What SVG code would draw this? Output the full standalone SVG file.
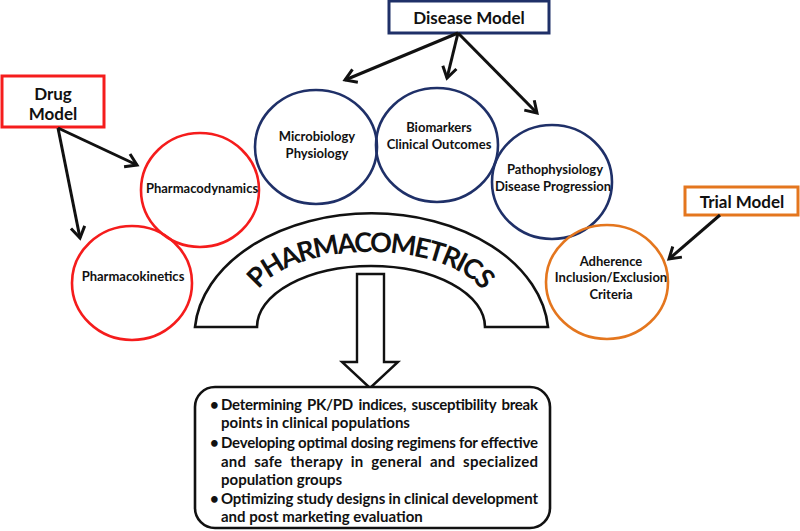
<svg xmlns="http://www.w3.org/2000/svg" width="800" height="531" viewBox="0 0 800 531">
<style>
text{font-family:Lato,"Open Sans","Liberation Sans",sans-serif;font-weight:bold;fill:#111}
.red{fill:none;stroke:#f51c1c;stroke-width:2.6}
.navy{fill:none;stroke:#1f3068;stroke-width:2.6}
.orange{fill:none;stroke:#e4761e;stroke-width:2.6}
.lbl{font-size:13px;text-anchor:middle}
.box{font-size:17px;text-anchor:middle}
.arr{stroke:#111;stroke-width:3;fill:none;marker-end:url(#v)}
.bt{font-size:15px}
</style>
<defs>
<marker id="v" markerUnits="userSpaceOnUse" viewBox="-14 -10 18 20" markerWidth="18" markerHeight="20" refX="0" refY="0" orient="auto">
<path d="M-11,-7 L0,0 L-11,7" fill="none" stroke="#111" stroke-width="3"/>
</marker>
<path id="arcText" d="M252,308 A118,56 0 0 1 488,308"/>
</defs>
<rect width="800" height="531" fill="#fff"/>

<g id="drug-model">
<rect x="2" y="76" width="102" height="51" fill="#fff" stroke="#f51c1c" stroke-width="3"/>
<text class="box" x="53" y="100">Drug</text>
<text class="box" x="53" y="120">Model</text>
</g>
<g id="disease-model">
<rect x="389" y="1" width="160" height="32" fill="#fff" stroke="#1f3068" stroke-width="3"/>
<text class="box" x="469" y="24">Disease Model</text>
</g>
<g id="trial-model">
<rect x="685" y="187" width="113" height="28" fill="#fff" stroke="#e4761e" stroke-width="3"/>
<text class="box" x="742" y="208">Trial Model</text>
</g>

<g id="pharmacokinetics">
<ellipse class="red" cx="132" cy="283" rx="60" ry="57"/>
<text class="lbl" x="133" y="281">Pharmacokinetics</text>
</g>
<g id="pharmacodynamics">
<ellipse class="red" cx="200" cy="190" rx="59" ry="57"/>
<text class="lbl" x="202" y="193">Pharmacodynamics</text>
</g>
<g id="microbiology">
<ellipse class="navy" cx="316" cy="147" rx="61" ry="57"/>
<text class="lbl" x="317" y="141">Microbiology</text>
<text class="lbl" x="317" y="158">Physiology</text>
</g>
<g id="biomarkers">
<ellipse class="navy" cx="437" cy="145" rx="61" ry="57"/>
<text class="lbl" x="439" y="132">Biomarkers</text>
<text class="lbl" x="439" y="149">Clinical Outcomes</text>
</g>
<g id="pathophysiology">
<ellipse class="navy" cx="552" cy="182" rx="60" ry="57"/>
<text class="lbl" x="555" y="174">Pathophysiology</text>
<text class="lbl" x="553" y="191">Disease Progression</text>
</g>
<g id="adherence">
<ellipse class="orange" cx="607" cy="282" rx="61" ry="57"/>
<text class="lbl" x="611" y="266">Adherence</text>
<text class="lbl" x="611" y="282">Inclusion/Exclusion</text>
<text class="lbl" x="611" y="299">Criteria</text>
</g>

<g id="pharmacometrics">
<path d="M195,327 A177,123 0 0 1 548,327 L485,327 A114,61 0 0 0 257,327 Z" fill="#fff" stroke="#111" stroke-width="2.6"/>
<text font-size="27" letter-spacing="-2"><textPath href="#arcText" startOffset="50%" text-anchor="middle">PHARMACOMETRICS</textPath></text>
</g>

<g id="down-arrow">
<path d="M357,274 L384,274 L384,362 L398,362 L370,388 L342,362 L357,362 Z" fill="#fff" stroke="#111" stroke-width="2.4" stroke-linejoin="miter"/>
</g>

<g id="outcomes">
<rect x="195" y="387" width="355" height="141" rx="20" fill="#fff" stroke="#111" stroke-width="2.6"/>
<text class="bt" x="210" y="410">•</text>
<text class="bt" x="221" y="410" textLength="317" lengthAdjust="spacing" word-spacing="2">Determining PK/PD indices, susceptibility break</text>
<text class="bt" x="221" y="428">points in clinical populations</text>
<text class="bt" x="210" y="448">•</text>
<text class="bt" x="221" y="448" textLength="317" lengthAdjust="spacing">Developing optimal dosing regimens for effective</text>
<text class="bt" x="221" y="467" textLength="317" lengthAdjust="spacing" word-spacing="4">and safe therapy in general and specialized</text>
<text class="bt" x="221" y="485">population groups</text>
<text class="bt" x="210" y="504">•</text>
<text class="bt" x="221" y="504" textLength="317" lengthAdjust="spacing">Optimizing study designs in clinical development</text>
<text class="bt" x="221" y="522">and post marketing evaluation</text>
</g>

<g id="connectors">
<line class="arr" x1="458" y1="33" x2="345" y2="80"/>
<line class="arr" x1="458" y1="33" x2="447" y2="78"/>
<line class="arr" x1="458" y1="33" x2="537" y2="113"/>
<line class="arr" x1="58" y1="128" x2="137" y2="165"/>
<line class="arr" x1="58" y1="128" x2="80" y2="238"/>
<line class="arr" x1="720" y1="215" x2="669" y2="259"/>
</g>
</svg>
